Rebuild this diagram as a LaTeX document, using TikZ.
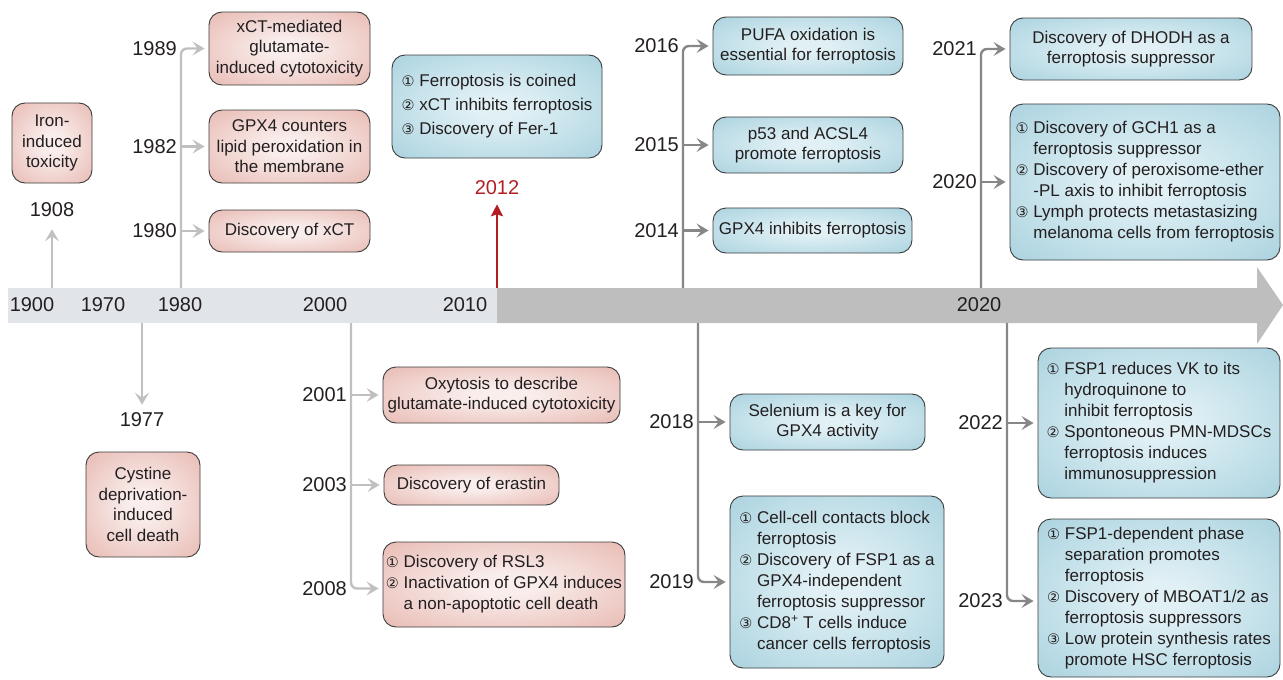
\documentclass[tikz,border=0pt]{standalone}
\usepackage{fontspec}
\setmainfont{Liberation Sans}
\newfontfamily\dejavu{DejaVu Sans}
\usetikzlibrary{arrows.meta}
\definecolor{pinkin}{RGB}{249,238,236}
\definecolor{pinkout}{RGB}{229,176,168}
\definecolor{bluein}{RGB}{224,240,245}
\definecolor{blueout}{RGB}{160,205,219}
\definecolor{edgecol}{RGB}{60,60,60}
\definecolor{txt}{RGB}{35,31,32}
\definecolor{lightconn}{RGB}{192,192,192}
\definecolor{darkconn}{RGB}{135,135,135}
\definecolor{barlight}{RGB}{225,229,234}
\definecolor{bardark}{RGB}{190,190,190}
\definecolor{redc}{RGB}{180,30,35}
\pgfdeclareradialshading{pinkshade}{\pgfpoint{0bp}{0bp}}{color(0bp)=(pinkin); color(6bp)=(pinkin); color(42bp)=(pinkout); color(50bp)=(pinkout)}
\pgfdeclareradialshading{blueshade}{\pgfpoint{0bp}{0bp}}{color(0bp)=(bluein); color(6bp)=(bluein); color(42bp)=(blueout); color(50bp)=(blueout)}
\newcommand\cnum[1]{{\dejavu\fontsize{14.5}{21}\selectfont #1}}
\newcommand\hang{\hphantom{\cnum{①}\ }}
\begin{document}
\begin{tikzpicture}[x=1pt,y=-1pt,
  box/.style={draw=edgecol, line width=0.9pt, rounded corners=13pt, shade, text=txt,
    font=\fontsize{17}{20.5}\selectfont, inner sep=3pt, align=center},
  pbox/.style={box, shading=pinkshade},
  bbox/.style={box, shading=blueshade},
  lst/.style={align=left, font=\fontsize{17}{21}\selectfont, inner xsep=2pt},
  year/.style={text=txt, font=\fontsize{20}{24}\selectfont, inner sep=1pt},
  tip/.style={-{Stealth[length=12pt,width=14pt,inset=5pt]}},
  lconn/.style={draw=lightconn, line width=2.4pt, tip},
  dconn/.style={draw=darkconn, line width=2.4pt, tip}
]
\useasboundingbox (0,0) rectangle (1283,680);

% ---- timeline bar
\fill[barlight] (8,288) rectangle (497,323);
\fill[bardark] (497,288) -- (1257,288) -- (1257,267) -- (1283,305) -- (1257,344) -- (1257,323) -- (497,323) -- cycle;
\node[year] (l1900) at (32,305) {1900};
\node[year] (l1970) at (103,305) {1970};
\node[year] (l1980) at (180,305) {1980};
\node[year] (l2000) at (325,305) {2000};
\node[year] (l2010) at (465,305) {2010};
\node[year] (l2020) at (979,305) {2020};

% ---- anchor coordinates on the bar
\coordinate (c1908) at (52,288);
\coordinate (c1980) at (181,288);
\coordinate (c1977) at (142,323);
\coordinate (c2000) at (351,323);
\coordinate (c2012) at (497,288);
\coordinate (c2014) at (683,288);
\coordinate (c2018) at (698,323);
\coordinate (c2020) at (981,288);
\coordinate (c2022) at (1007,323);

% ---- pink boxes
\node[pbox, minimum width=80pt, minimum height=80pt] (b1908) at (52,143) {Iron-\\induced\\toxicity};
\node[pbox, minimum width=161pt, minimum height=73pt] (b1989) at (289.5,48.5) {xCT-mediated\\glutamate-\\induced cytotoxicity};
\node[pbox, minimum width=161pt, minimum height=73pt] (b1982) at (289.5,146.5) {GPX4 counters\\lipid peroxidation in\\the membrane};
\node[pbox, minimum width=161pt, minimum height=42pt] (b1980) at (289.5,231) {Discovery of xCT};
\node[pbox, minimum width=114pt, minimum height=105pt] (b1977) at (143,504.5) {Cystine\\deprivation-\\induced\\cell death};
\node[pbox, minimum width=237pt, minimum height=56pt] (b2001) at (501.5,395) {Oxytosis to describe\\glutamate-induced cytotoxicity};
\node[pbox, minimum width=175pt, minimum height=40pt] (b2003) at (471.5,485) {Discovery of erastin};
\node[pbox, lst, minimum width=242pt, minimum height=85pt] (b2008) at (504,584.5) {\cnum{①} Discovery of RSL3\\\cnum{②} Inactivation of GPX4 induces\\\hang a non-apoptotic cell death};

% ---- blue boxes
\node[bbox, lst, font=\fontsize{17}{24}\selectfont, minimum width=210pt, minimum height=103pt] (b2012) at (497,106.5) {\cnum{①} Ferroptosis is coined\\\cnum{②} xCT inhibits ferroptosis\\\cnum{③} Discovery of Fer-1};
\node[bbox, minimum width=190pt, minimum height=58pt] (b2016) at (808,46) {PUFA oxidation is\\essential for ferroptosis};
\node[bbox, minimum width=190pt, minimum height=56pt] (b2015) at (808,145) {p53 and ACSL4\\promote ferroptosis};
\node[bbox, minimum width=199pt, minimum height=45pt] (b2014) at (812.5,230.5) {GPX4 inhibits ferroptosis};
\node[bbox, minimum width=242pt, minimum height=62pt] (b2021) at (1131,49) {Discovery of DHODH as a\\ferroptosis suppressor};
\node[bbox, lst, minimum width=270pt, minimum height=156pt] (b2020) at (1145,182) {\cnum{①} Discovery of GCH1 as a\\\hang ferroptosis suppressor\\\cnum{②} Discovery of peroxisome-ether\\\hang -PL axis to inhibit ferroptosis\\\cnum{③} Lymph protects metastasizing\\\hang melanoma cells from ferroptosis};
\node[bbox, minimum width=195pt, minimum height=56pt] (b2018) at (827.5,422) {Selenium is a key for\\GPX4 activity};
\node[bbox, lst, minimum width=214pt, minimum height=172pt] (b2019) at (837,582) {\cnum{①} Cell-cell contacts block\\\hang ferroptosis\\\cnum{②} Discovery of FSP1 as a\\\hang GPX4-independent\\\hang ferroptosis suppressor\\\cnum{③} CD8\textsuperscript{+} T cells induce\\\hang cancer cells ferroptosis};
\node[bbox, lst, minimum width=242pt, minimum height=150pt] (b2022) at (1159,423) {\cnum{①} FSP1 reduces VK to its\\\hang hydroquinone to\\\hang inhibit ferroptosis\\\cnum{②} Spontoneous PMN-MDSCs\\\hang ferroptosis induces\\\hang immunosuppression};
\node[bbox, lst, minimum width=242pt, minimum height=158pt] (b2023) at (1159,598) {\cnum{①} FSP1-dependent phase\\\hang separation promotes\\\hang ferroptosis\\\cnum{②} Discovery of MBOAT1/2 as\\\hang ferroptosis suppressors\\\cnum{③} Low protein synthesis rates\\\hang promote HSC ferroptosis};

% ---- 1908
\node[year] (y1908) at (52,210) {1908};
\draw[lconn] (c1908) -- ([yshift=-11pt]y1908.south);

% ---- 1977
\node[year] (y1977) at (142,420) {1977};
\draw[lconn] (c1977) -- ([yshift=7pt]y1977.north);

% ---- 1980s
\draw[lconn, rounded corners=6pt, shorten >=4pt] (c1980) |- (b1989.west);
\draw[lconn, shorten >=4pt] (c1980 |- b1982.west) -- (b1982.west);
\draw[lconn, shorten >=4pt] (c1980 |- b1980.west) -- (b1980.west);
\path (c1980 |- b1989.west) node[year, anchor=east, xshift=-3pt] (y1989) {1989};
\path (c1980 |- b1982.west) node[year, anchor=east, xshift=-3pt] (y1982) {1982};
\path (c1980 |- b1980.west) node[year, anchor=east, xshift=-3pt] (y1980) {1980};

% ---- 2000s
\draw[lconn, rounded corners=6pt, shorten >=4pt] (c2000) |- ([yshift=-4pt]b2008.west);
\draw[lconn, shorten >=4pt] (c2000 |- b2001.west) -- (b2001.west);
\draw[lconn, shorten >=4pt] (c2000 |- b2003.west) -- (b2003.west);
\path (c2000 |- b2001.west) node[year, anchor=east, xshift=-3pt] (y2001) {2001};
\path (c2000 |- b2003.west) node[year, anchor=east, xshift=-3pt] (y2003) {2003};
\path ([yshift=-4pt]b2008.west -| c2000) node[year, anchor=east, xshift=-3pt] (y2008) {2008};

% ---- 2012
\node[text=redc, font=\fontsize{20}{24}\selectfont, inner sep=1pt] (y2012) at (497,188) {2012};
\draw[draw=redc, line width=2pt, -{Stealth[length=12pt,width=12pt,inset=2pt]}] (c2012) -- ([yshift=-8pt]y2012.south);

% ---- 2014-2016
\draw[dconn, rounded corners=6pt, shorten >=4pt] (c2014) |- (b2016.west);
\draw[dconn, shorten >=4pt] (c2014 |- b2015.west) -- (b2015.west);
\draw[dconn, shorten >=4pt] (c2014 |- b2014.west) -- (b2014.west);
\path (c2014 |- b2016.west) node[year, anchor=east, xshift=-3pt] (y2016) {2016};
\path (c2014 |- b2015.west) node[year, anchor=east, xshift=-3pt] (y2015) {2015};
\path (c2014 |- b2014.west) node[year, anchor=east, xshift=-3pt] (y2014) {2014};

% ---- 2018-2019
\draw[dconn, shorten >=4pt] (c2018 |- b2018.west) -- (b2018.west);
\draw[dconn, rounded corners=6pt, shorten >=4pt] (c2018) |- (b2019.west);
\path (c2018 |- b2018.west) node[year, anchor=east, xshift=-3pt] (y2018) {2018};
\path (c2018 |- b2019.west) node[year, anchor=east, xshift=-3pt] (y2019) {2019};

% ---- 2020-2021
\draw[dconn, rounded corners=6pt, shorten >=4pt] (c2020) |- (b2021.west);
\draw[dconn, shorten >=4pt] (c2020 |- b2020.west) -- (b2020.west);
\path (c2020 |- b2021.west) node[year, anchor=east, xshift=-3pt] (y2021) {2021};
\path (c2020 |- b2020.west) node[year, anchor=east, xshift=-3pt] (y2020) {2020};

% ---- 2022-2023
\draw[dconn, shorten >=4pt] (c2022 |- b2022.west) -- (b2022.west);
\draw[dconn, rounded corners=6pt, shorten >=4pt] (c2022) |- ([yshift=-3pt]b2023.west);
\path (c2022 |- b2022.west) node[year, anchor=east, xshift=-3pt] (y2022) {2022};
\path ([yshift=-3pt]b2023.west -| c2022) node[year, anchor=east, xshift=-3pt] (y2023) {2023};
\end{tikzpicture}
\end{document}
